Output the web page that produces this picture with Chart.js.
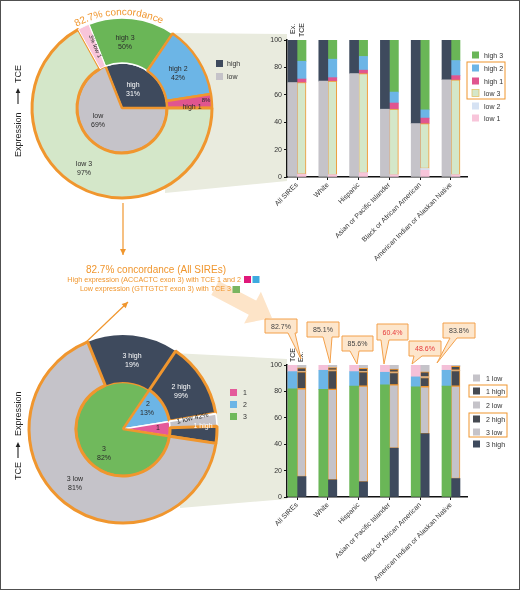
<!DOCTYPE html>
<html><head><meta charset="utf-8">
<script src="https://cdn.jsdelivr.net/npm/chart.js@4.4.0/dist/chart.umd.min.js"></script>
<style>
html,body{margin:0;padding:0;background:#fff;}
#frame{position:relative;width:520px;height:590px;overflow:hidden;font-family:"Liberation Sans",Arial,sans-serif;background:#fff;}
.layer{position:absolute;left:0;top:0;width:520px;height:590px;}
.box{position:absolute;}
#border{position:absolute;left:0;top:0;width:520px;height:590px;box-sizing:border-box;border:1px solid #505050;pointer-events:none;}
</style></head>
<body>
<div id="frame">
 <svg class="layer" id="bg" width="520" height="590" xmlns="http://www.w3.org/2000/svg">
  <polygon points="172,33 287,34 287,181 165,193" fill="#e9ebde"/>
  <polygon points="173,353 287,359 287,499 180,508" fill="#e9ebde"/>
  <polygon points="218.7,280.9 256.2,300.6 260.9,291.8 272,318 244.1,323.6 248.8,314.8 211.3,295.1" fill="#fde4c8"/>
 </svg>
 <div class="box" style="left:22px;top:8px;width:200px;height:200px"><canvas id="topPie"></canvas></div>
 <div class="box" style="left:23px;top:329px;width:200px;height:200px"><canvas id="botPie"></canvas></div>
 <div class="box" style="left:250px;top:30px;width:225px;height:250px"><canvas id="topBar"></canvas></div>
 <div class="box" style="left:250px;top:350px;width:225px;height:240px"><canvas id="botBar"></canvas></div>
 <svg class="layer" id="fg" width="520" height="590" xmlns="http://www.w3.org/2000/svg" font-family="Liberation Sans, Arial, sans-serif"></svg>
 <div id="border"></div>
</div>
<script>
// ---------------- DATA ----------------
const categories = ['All SIREs','White','Hispanic','Asian or Pacific Islander','Black or African American','American Indian or Alaskan Native'];

// top donut: expression (inner) -> TCE (outer, % within parent)
const topInnerLabels = ['high','low'];
const topInnerValues = [31, 69];
const topOuterLabels = ['high 3','high 2','high 1','low 3','low 2','low 1'];
const topOuterShare  = [50, 42, 8, 97, 0, 3];
const topOuterParent = [0, 0, 0, 1, 1, 1];

// bottom donut: TCE (inner) -> expression (outer, % within parent)
const botInnerLabels = ['2','1','3'];
const botInnerValues = [13, 5, 82];
const botOuterLabels = ['3 high','2 high','2 low','1 low','1 high','3 low'];
const botOuterShare  = [19, 99, 1, 42, 58, 81];
const botOuterParent = [2, 0, 0, 1, 1, 2];

// top bars (Ex. stack, then TCE stack)
const topExLow   = [69, 70, 75.5, 49.5, 39, 71];
const topExHigh  = [31, 30, 24.5, 50.5, 61, 29];
const topTceLow1 = [2, 1.5, 3, 1.5, 5, 1.5];
const topTceLow2 = [0.1, 0.2, 0.2, 0.2, 1.2, 0.2];
const topTceLow3 = [66.9, 68.3, 72.3, 47.8, 32.8, 69.3];
const topTceHigh1 = [2.5, 2.5, 2.5, 4.5, 4, 3];
const topTceHigh2 = [13, 13.5, 10, 8, 6, 11];
const topTceHigh3 = [15.5, 14, 12, 38, 51, 15];

// bottom bars (TCE stack, then Ex. stack)
const botTce3 = [82, 81.5, 84, 85, 83.5, 84];
const botTce2 = [13, 14.5, 11, 9.5, 7.5, 12];
const botTce1 = [5, 4, 5, 5.5, 9, 4];
const botEx3High = [15.5, 13, 11.5, 37, 48, 14];
const botEx3Low  = [66.5, 68.5, 72.5, 48, 35.5, 70];
const botEx2High = [12.9, 14.3, 10.8, 9.3, 7, 11.8];
const botEx2Low  = [0.1, 0.2, 0.2, 0.2, 0.5, 0.2];
const botEx1High = [2.9, 2, 2.5, 2.5, 3.8, 3];
const botEx1Low  = [2.1, 2, 2.5, 3, 5.2, 1];

const concordanceLabels = ['82.7%','85.1%','85.6%','60.4%','48.6%','83.8%'];
const concordanceLow = [false,false,false,true,true,false];
const yTicks = [0,20,40,60,80,100];

// ---------------- STYLE ----------------
const ORANGE = '#f0962e';
const DARK = '#3e4a5d', DARK2 = '#464a52', GREY = '#c5c3c9';
const GREEN = '#6ab657', BLUE = '#6cb5e6', MAG = '#e0558f';
const PGREEN = '#d4e7c9', PBLUE = '#d6e2f3', PPINK = '#f8c5da';
const PINK1 = '#e45a9a';
Chart.defaults.font.family = '"Liberation Sans", Arial, sans-serif';

const topOuterValues = topOuterShare.map((s,i)=> s/100*topInnerValues[topOuterParent[i]]);
const botOuterValues = botOuterShare.map((s,i)=> s/100*botInnerValues[botOuterParent[i]]);

const pieBase = (r) => ({
  animation:false, events:[], responsive:true, maintainAspectRatio:false, radius:r,
  layout:{padding:0}, plugins:{legend:{display:false}, tooltip:{enabled:false}}
});

new Chart(document.getElementById('topPie'), {
  type:'pie',
  data:{ labels: topOuterLabels, datasets:[
    { data: topOuterValues, rotation:-21.6,
      backgroundColor:[GREEN, BLUE, MAG, PGREEN, PBLUE, PPINK],
      borderColor:['#fff', ORANGE, ORANGE, ORANGE, '#fff', '#fff'],
      borderWidth:[1.5, 2.5, 2.5, 3, 0, 1] },
    { data: topInnerValues, rotation:-21.6,
      backgroundColor:[DARK, GREY], borderColor:['#fff', ORANGE], borderWidth:[1.5, 2.5] }
  ]},
  options: pieBase(90)
});

const botInnerStart = 34;
new Chart(document.getElementById('botPie'), {
  type:'pie',
  data:{ labels: botOuterLabels, datasets:[
    { data: botOuterValues, rotation: botInnerStart - botOuterValues[0]*3.6,
      backgroundColor:[DARK, DARK, GREY, GREY, DARK, GREY],
      borderColor:['#fff', ORANGE, '#fff', '#fff', ORANGE, ORANGE],
      borderWidth:[0, 3, 1, 1.5, 3, 3] },
    { data: botInnerValues, rotation: botInnerStart,
      backgroundColor:[BLUE, PINK1, '#70b95c'], borderColor:['#fff','#fff', ORANGE], borderWidth:[1.5,1.5,2.5] }
  ]},
  options: pieBase(94)
});

function ds(label, arr, stack, bg, border, bw){
  return { label, data: arr.map((v,i)=>({x:i, y:v})), stack, backgroundColor:bg,
           borderColor: border || bg, borderWidth: bw || 0, borderSkipped:false, barThickness:9 };
}
function barOptions(topPad, xh){
  return {
    animation:false, events:[], responsive:true, maintainAspectRatio:false,
    layout:{padding:{left:0,right:8,top:topPad,bottom:0}},
    plugins:{legend:{display:false}, tooltip:{enabled:false}},
    scales:{
      x:{ type:'linear', stacked:true, min:-0.325, max:5.52, offset:false,
          afterBuildTicks: ax => { ax.ticks = categories.map((c,i)=>({value:i})); },
          afterFit: ax => { ax.height = xh; },
          ticks:{ callback: v => categories[v], minRotation:45, maxRotation:45, autoSkip:false,
                  font:{size:7}, color:'#333', padding:1 },
          grid:{ display:true, offset:false, drawOnChartArea:false, drawTicks:true, tickLength:3, color:'#111' },
          border:{ display:true, color:'#111', width:1.5 } },
      y:{ stacked:true, min:0, max:100,
          afterBuildTicks: ax => { ax.ticks = yTicks.map(v=>({value:v})); },
          afterFit: ax => { ax.width = 37; },
          ticks:{ font:{size:7}, color:'#333', padding:2 },
          grid:{ drawOnChartArea:false, tickLength:3, color:'#111' },
          border:{ color:'#111', width:1.5 } }
    }
  };
}

new Chart(document.getElementById('topBar'), {
  type:'bar',
  data:{ datasets:[
    ds('low', topExLow, 'ex', GREY),
    ds('high', topExHigh, 'ex', DARK),
    ds('low 1', topTceLow1, 'tce', PPINK),
    ds('low 2', topTceLow2, 'tce', PBLUE),
    ds('low 3', topTceLow3, 'tce', PGREEN, ORANGE, 1),
    ds('high 1', topTceHigh1, 'tce', MAG),
    ds('high 2', topTceHigh2, 'tce', BLUE),
    ds('high 3', topTceHigh3, 'tce', GREEN)
  ]},
  options: barOptions(10, 103)
});

new Chart(document.getElementById('botBar'), {
  type:'bar',
  data:{ datasets:[
    ds('3', botTce3, 'tce', GREEN),
    ds('2', botTce2, 'tce', BLUE),
    ds('1', botTce1, 'tce', '#f4c0d8'),
    ds('3 high', botEx3High, 'ex', DARK),
    ds('3 low', botEx3Low, 'ex', GREY, ORANGE, 1),
    ds('2 high', botEx2High, 'ex', DARK2, ORANGE, 1),
    ds('2 low', botEx2Low, 'ex', GREY),
    ds('1 high', botEx1High, 'ex', DARK2, ORANGE, 1),
    ds('1 low', botEx1Low, 'ex', GREY)
  ]},
  options: barOptions(15, 93)
});

// ---------------- ANNOTATIONS (SVG) ----------------
const NS = 'http://www.w3.org/2000/svg';
const fg = document.getElementById('fg');
function el(tag, attrs, text){
  const e = document.createElementNS(NS, tag);
  for (const k in attrs) e.setAttribute(k, attrs[k]);
  if (text !== undefined) e.textContent = text;
  fg.appendChild(e); return e;
}
function txt(x, y, s, size, fill, extra){
  return el('text', Object.assign({x, y, 'font-size':size, fill:fill||'#2b2b2b', 'text-anchor':'middle'}, extra||{}), s);
}
function arrow(x1,y1,x2,y2,color,w){
  el('line',{x1,y1,x2,y2,stroke:color,'stroke-width':w||1.2});
  const a = Math.atan2(y2-y1,x2-x1), L=6, H=3;
  const bx = x2 - L*Math.cos(a), by = y2 - L*Math.sin(a);
  const px = -Math.sin(a)*H, py = Math.cos(a)*H;
  el('polygon',{points:`${x2},${y2} ${bx+px},${by+py} ${bx-px},${by-py}`, fill:color});
}

// arc title
const defs = el('defs',{});
const cx=122, cy=108, R=93;
const a1=-152*Math.PI/180, a2=-32*Math.PI/180;
const p = document.createElementNS(NS,'path');
p.setAttribute('id','arcPath');
p.setAttribute('d',`M ${cx+R*Math.cos(a1)} ${cy+R*Math.sin(a1)} A ${R} ${R} 0 0 1 ${cx+R*Math.cos(a2)} ${cy+R*Math.sin(a2)}`);
defs.appendChild(p);
const at = el('text',{'font-size':10, fill:ORANGE});
const tp = document.createElementNS(NS,'textPath');
tp.setAttribute('href','#arcPath'); tp.setAttribute('startOffset','50%'); tp.setAttribute('text-anchor','middle');
tp.textContent = '82.7% concordance';
at.appendChild(tp);

// top donut labels
txt(125,40,'high 3',7); txt(125,49,'50%',7);
txt(178,71,'high 2',7); txt(178,80,'42%',7);
txt(192,109,'high 1',7); txt(206,102,'8%',6);
el('text',{x:0,y:0,'font-size':6,fill:'#2b2b2b','text-anchor':'middle',transform:'translate(93.5,47) rotate(67)'},'3% low 1');
txt(133,87,'high',7,'#fff'); txt(133,96,'31%',7,'#fff');
txt(98,118,'low',7); txt(98,127,'69%',7);
txt(84,166,'low 3',7); txt(84,175,'97%',7);
// top donut legend
el('rect',{x:216,y:60,width:7,height:7,fill:DARK});
el('text',{x:227,y:66,'font-size':7,fill:'#333'},'high');
el('rect',{x:216,y:73,width:7,height:7,fill:GREY});
el('text',{x:227,y:79,'font-size':7,fill:'#333'},'low');

// vertical axis captions
function vcap(x, yc, parts){
  const g = document.createElementNS(NS,'g');
  g.setAttribute('transform',`translate(${x},${yc}) rotate(-90)`);
  fg.appendChild(g);
  parts.forEach(pt=>{
    if (pt.t){ const t=document.createElementNS(NS,'text'); t.setAttribute('x',pt.x); t.setAttribute('y',3.2);
      t.setAttribute('font-size',9); t.setAttribute('fill','#222'); t.textContent=pt.t; g.appendChild(t); }
    else { const l=document.createElementNS(NS,'line'); l.setAttribute('x1',pt.x1); l.setAttribute('x2',pt.x2-4);
      l.setAttribute('y1',0); l.setAttribute('y2',0); l.setAttribute('stroke','#222'); l.setAttribute('stroke-width',1.1); g.appendChild(l);
      const h=document.createElementNS(NS,'polygon'); h.setAttribute('points',`${pt.x2},0 ${pt.x2-5},-2.3 ${pt.x2-5},2.3`); h.setAttribute('fill','#222'); g.appendChild(h); }
  });
}
vcap(18,110,[{t:'Expression',x:-47},{x1:6,x2:22},{t:'TCE',x:27}]);
vcap(18,437,[{t:'TCE',x:-43},{x1:-21,x2:-5},{t:'Expression',x:1}]);

// arrows
arrow(123,203,123,255,ORANGE,1.2);
arrow(83,345,128,302,ORANGE,1.2);

// middle text
txt(156,272.5,'82.7% concordance (All SIREs)',10,ORANGE);
el('text',{x:241,y:281.5,'font-size':7.2,fill:ORANGE,'text-anchor':'end'},'High expression (ACCACTC exon 3) with TCE 1 and 2');
el('rect',{x:244,y:276,width:7,height:7,fill:'#e0187a'});
el('rect',{x:252.5,y:276,width:7,height:7,fill:'#3eaadf'});
el('text',{x:231,y:290.5,'font-size':7.2,fill:ORANGE,'text-anchor':'end'},'Low expression (GTTGTCT exon 3) with TCE 3');
el('rect',{x:232.5,y:286,width:7.5,height:7,fill:'#7ab560'});

// bottom donut labels
txt(132,358,'3 high',7,'#fff'); txt(132,367,'19%',7,'#fff');
txt(181,389,'2 high',7,'#fff'); txt(181,398,'99%',7,'#fff');
el('text',{x:0,y:0,'font-size':7,fill:'#2b2b2b','text-anchor':'middle',transform:'translate(193,420) rotate(-13)'},'1 low 42%');
txt(203,428,'1 high',7,'#fff');
txt(148,406,'2',7); txt(147,415,'13%',7);
txt(158,430,'1',7);
txt(104,451,'3',7); txt(104,460,'82%',7);
txt(75,481,'3 low',7); txt(75,490,'81%',7);
// bottom donut legend
[[botInnerLabels[1],PINK1,389],[botInnerLabels[0],BLUE,401],[botInnerLabels[2],'#70b95c',413]].forEach(([l,c,y])=>{
  el('rect',{x:230,y:y,width:7,height:7,fill:c});
  el('text',{x:243,y:y+6,'font-size':7,fill:'#333'},l);
});

// Ex./TCE captions above bars
el('text',{x:0,y:0,'font-size':7,fill:'#222',transform:'translate(294.5,34) rotate(-90)'},'Ex.');
el('text',{x:0,y:0,'font-size':7,fill:'#222',transform:'translate(303.5,37) rotate(-90)'},'TCE');
el('text',{x:0,y:0,'font-size':7,fill:'#222',transform:'translate(294.5,362) rotate(-90)'},'TCE');
el('text',{x:0,y:0,'font-size':7,fill:'#222',transform:'translate(302.5,362) rotate(-90)'},'Ex.');

// top bar legend
const topLeg = [['high 3',GREEN,null,55],['high 2',BLUE,null,68],['high 1',MAG,null,81],['low 3',PGREEN,'#e3c36a',93],['low 2',PBLUE,null,106],['low 1',PPINK,null,118]];
topLeg.forEach(([l,c,b,y])=>{
  const r = {x:472,y:y-3.5,width:7,height:7,fill:c}; if(b){r.stroke=b;r['stroke-width']=0.8;}
  el('rect',r);
  el('text',{x:484,y:y+2.5,'font-size':7,fill:'#333'},l);
});
el('rect',{x:467,y:62,width:38,height:37,fill:'none',stroke:ORANGE,'stroke-width':1});

// bottom bar legend
const botLeg = [['1 low',GREY,378],['1 high',DARK2,391],['2 low',GREY,405],['2 high',DARK2,419],['3 low',GREY,432],['3 high',DARK,444]];
botLeg.forEach(([l,c,y])=>{
  el('rect',{x:473,y:y-3.5,width:7,height:7,fill:c});
  el('text',{x:486,y:y+2.5,'font-size':7,fill:'#333'},l);
});
el('rect',{x:469,y:385,width:38,height:12,fill:'none',stroke:ORANGE,'stroke-width':1});
el('rect',{x:469,y:413,width:38,height:24,fill:'none',stroke:ORANGE,'stroke-width':1});

// callouts
const callouts = [
  [265,319,32,14,288,295,301,359],
  [307,322,32,15,323,332,330,363],
  [342,336,31,15,350,359,357,364],
  [377,324,31,16,381,389,384,364],
  [409,341,32,15,414,422,412,364],
  [443,323,32,15,450,457,437,363]
];
callouts.forEach((c,i)=>{
  const [x,y,w,h,b1,b2,tx,ty] = c;
  el('path',{d:`M${x},${y} H${x+w} V${y+h} H${b2} L${tx},${ty} L${b1},${y+h} H${x} Z`, fill:'#fde6cc', stroke:'#f3a04a','stroke-width':1});
  txt(x+w/2, y+h/2+2.5, concordanceLabels[i], 7, concordanceLow[i] ? '#e5393b' : '#444');
});
</script>
</body></html>
